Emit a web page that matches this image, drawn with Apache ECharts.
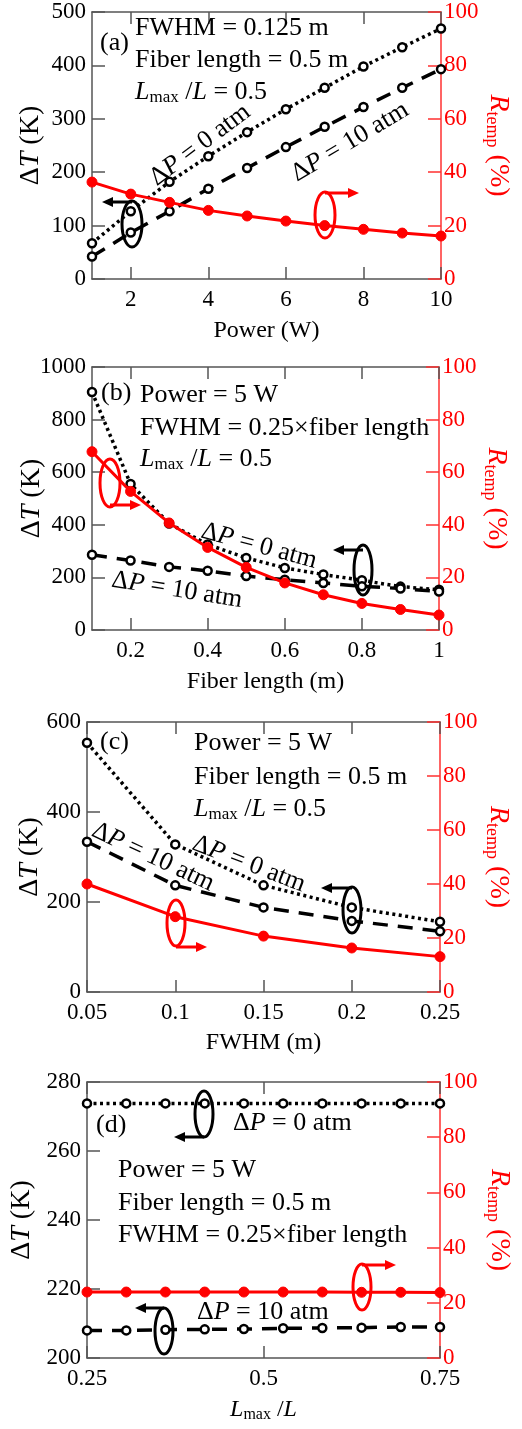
<!DOCTYPE html>
<html><head><meta charset="utf-8">
<script src="https://cdn.jsdelivr.net/npm/echarts@6/dist/echarts.min.js"></script>
<style>html,body{margin:0;padding:0;background:#fff}#c{width:522px;height:1429px}</style>
</head><body><div id="c"></div>
<script>
// ---------- data ----------
const powerW = [1, 2, 3, 4, 5, 6, 7, 8, 9, 10];
const a_dT0 = [67, 127, 182, 230, 275, 318, 358, 398, 434, 469];
const a_dT10 = [42, 87, 127, 169, 208, 247, 285, 322, 358, 393];
const a_R = [36.3, 31.8, 28.7, 25.7, 23.6, 21.7, 20.0, 18.6, 17.2, 16.1];

const fiberLen = [0.1, 0.2, 0.3, 0.4, 0.5, 0.6, 0.7, 0.8, 0.9, 1.0];
const b_dT0 = [905, 555, 405, 325, 274, 236, 211, 189, 165, 153];
const b_dT10 = [286, 264, 240, 225, 205, 191, 179, 166, 158, 146];
const b_R = [67.8, 52.7, 40.7, 31.4, 23.8, 17.9, 13.4, 10.1, 7.8, 5.7];

const fwhm = [0.05, 0.1, 0.15, 0.2, 0.25];
const c_dT0 = [554, 328, 237, 188, 156];
const c_dT10 = [334, 237, 188, 158, 135];
const c_R = [40.0, 27.9, 20.7, 16.3, 13.1];

const lRatio = [0.25, 0.3056, 0.3611, 0.4167, 0.4722, 0.5278, 0.5833, 0.6389, 0.6944, 0.75];
const d_dT0 = [273.8, 273.8, 273.8, 273.8, 273.8, 273.8, 273.8, 273.8, 273.8, 273.8];
const d_dT10 = [208.0, 208.0, 208.2, 208.3, 208.4, 208.6, 208.7, 208.8, 209.0, 209.0];
const d_R = [23.9, 23.9, 23.9, 23.9, 23.9, 23.9, 23.9, 23.8, 23.8, 23.7];

// axis tick values
const aXTicks = [2, 4, 6, 8, 10];
const bXTicks = [0.2, 0.4, 0.6, 0.8, 1];

// ---------- styling helpers ----------
const FF = '"Liberation Serif", "Times New Roman", serif';
const RED = '#ff0000';
const AX = '#555';
const richBase = (color, fs) => ({
  n: { fontFamily: FF, fontSize: fs, color: color },
  i: { fontFamily: FF, fontSize: fs, color: color, fontStyle: 'italic' },
  s: { fontFamily: FF, fontSize: Math.round(fs * 0.65), color: color, padding: [Math.round(fs * 0.45), 0, 0, 0] }
});

const grids = [
  { left: 92, right: 81, top: 12, height: 267 },
  { left: 92, right: 83, top: 367, height: 263 },
  { left: 87, right: 82, top: 722, height: 270 },
  { left: 87, right: 82, top: 1082, height: 276 }
];

function xAxes(gi, cfg) {
  const base = {
    gridIndex: gi, type: 'value', min: cfg.min, max: cfg.max,
    splitLine: { show: false },
    axisLine: { show: true, onZero: false, lineStyle: { color: AX, width: 1.5 } },
    axisTick: { show: true, inside: true, length: 12, lineStyle: { color: AX, width: 1.5 } }
  };
  if (cfg.interval) base.interval = cfg.interval;
  if (cfg.ticks) { base.axisTick.customValues = cfg.ticks; }
  const bottom = Object.assign({}, base, {
    position: 'bottom',
    axisTick: Object.assign({}, base.axisTick),
    axisLabel: Object.assign({ fontFamily: FF, fontSize: 23, color: '#000', margin: 9 }, cfg.ticks ? { customValues: cfg.ticks } : {}),
    name: cfg.name, nameLocation: 'middle', nameGap: cfg.nameGap || 38, nameMoveOverlap: false,
    nameTextStyle: { fontFamily: FF, fontSize: 24, color: '#000', rich: richBase('#000', 24) }
  });
  const top = Object.assign({}, base, {
    position: 'top',
    axisTick: Object.assign({}, base.axisTick),
    axisLabel: { show: false }
  });
  return [bottom, top];
}

function yAxes(gi, cfg) {
  const left = {
    gridIndex: gi, type: 'value', position: 'left', min: cfg.min, max: cfg.max, interval: cfg.interval,
    splitLine: { show: false },
    axisLine: { show: true, onZero: false, lineStyle: { color: AX, width: 1.5 } },
    axisTick: { show: true, inside: true, length: 13, lineStyle: { color: AX, width: 1.5 } },
    axisLabel: { fontFamily: FF, fontSize: 23, color: '#000', margin: 6, formatter: v => String(v) },
    name: '{n|Δ}{i|T}{n| (K)}', nameLocation: 'middle', nameGap: cfg.lg, nameMoveOverlap: false,
    nameTextStyle: { rich: richBase('#000', 28) }
  };
  const right = {
    gridIndex: gi, type: 'value', position: 'right', min: 0, max: 100, interval: 20,
    splitLine: { show: false },
    axisLine: { show: true, onZero: false, lineStyle: { color: '#ff3030', width: 1.5 } },
    axisTick: { show: true, inside: true, length: 13, lineStyle: { color: '#ff3030', width: 1.5 } },
    axisLabel: { fontFamily: FF, fontSize: 23, color: RED, margin: 3, formatter: v => String(v) },
    name: '{i|R}{s|temp}{n| (%)}', nameLocation: 'middle', nameGap: cfg.rg, nameRotate: -90, nameMoveOverlap: false,
    nameTextStyle: { rich: richBase(RED, 28) }
  };
  return [left, right];
}

const zip = (xs, ys) => xs.map((x, k) => [x, ys[k]]);

function seriesFor(gi, xs, dT0, dT10, R) {
  const blackMarker = { color: '#fff', borderColor: '#000', borderWidth: 2.5 };
  return [
    {
      type: 'line', xAxisIndex: 2 * gi, yAxisIndex: 2 * gi, data: zip(xs, dT0),
      symbol: 'circle', symbolSize: 8, itemStyle: blackMarker,
      lineStyle: { color: '#000', width: 3.5, type: [3, 3.5] }, animation: false, z: 3
    },
    {
      type: 'line', xAxisIndex: 2 * gi, yAxisIndex: 2 * gi, data: zip(xs, dT10),
      symbol: 'circle', symbolSize: 8, itemStyle: blackMarker,
      lineStyle: { color: '#000', width: 3.5, type: [15, 10] }, animation: false, z: 3
    },
    {
      type: 'line', xAxisIndex: 2 * gi, yAxisIndex: 2 * gi + 1, data: zip(xs, R),
      symbol: 'circle', symbolSize: 10, itemStyle: { color: RED, borderColor: RED, borderWidth: 1 },
      lineStyle: { color: RED, width: 3 }, animation: false, z: 4
    }
  ];
}

// ---------- annotations ----------
const TRICH = {
  i: { fontFamily: FF, fontSize: 26, fontStyle: 'italic', fill: '#000' },
  n: { fontFamily: FF, fontSize: 26, fill: '#000' },
  s: { fontFamily: FF, fontSize: 17, fill: '#000', padding: [12, 0, 0, 0] }
};
function txt(x, y, text, rotDeg, align) {
  return {
    type: 'text', x: x, y: y, rotation: (rotDeg || 0) * Math.PI / 180, z: 100,
    style: {
      text: text, fontFamily: FF, fontSize: 26, fill: '#000',
      align: align || 'left', verticalAlign: 'middle', rich: TRICH
    }
  };
}
function ell(cx, cy, rx, ry, color) {
  return { type: 'ellipse', shape: { cx, cy, rx, ry }, z: 90, style: { fill: 'none', stroke: color, lineWidth: 3 } };
}
function arrow(x1, y1, x2, y2, color) {
  const dx = x2 - x1, dy = y2 - y1, L = Math.hypot(dx, dy);
  const ux = dx / L, uy = dy / L, hl = 11, hw = 5;
  const bx = x2 - ux * hl, by = y2 - uy * hl;
  return [
    { type: 'line', z: 90, shape: { x1, y1, x2: bx, y2: by }, style: { stroke: color, lineWidth: 3 } },
    { type: 'polygon', z: 90, shape: { points: [[x2, y2], [bx - uy * hw, by + ux * hw], [bx + uy * hw, by - ux * hw]] }, style: { fill: color } }
  ];
}

const LMAX = '{i|L}{s|max}{n| /}{i|L}{n| = 0.5}';
const graphics = [
  // (a)
  txt(100, 43, '(a)'),
  txt(135, 28, 'FWHM = 0.125 m'),
  txt(135, 60, 'Fiber length = 0.5 m'),
  txt(135, 92, LMAX),
  txt(200, 145, '{n|Δ}{i|P}{n| = 0 atm}', 37, 'center'),
  txt(350, 142, '{n|Δ}{i|P}{n| = 10 atm}', 31, 'center'),
  ell(132, 224, 10, 23, '#000'), ...arrow(132, 202, 102, 202, '#000'),
  ell(325, 215, 10, 23, RED), ...arrow(325, 193, 359, 193, RED),
  // (b)
  txt(101, 393, '(b)'),
  txt(140, 395, 'Power = 5 W'),
  txt(140, 428, 'FWHM = 0.25×fiber length'),
  txt(140, 459, LMAX),
  txt(259, 546, '{n|Δ}{i|P}{n| = 0 atm}', -15, 'center'),
  txt(177, 590, '{n|Δ}{i|P}{n| = 10 atm}', -9, 'center'),
  ell(110, 483, 10, 24, RED), ...arrow(110, 505, 141, 505, RED),
  ell(363, 570, 9, 25, '#000'), ...arrow(363, 550, 333, 550, '#000'),
  // (c)
  txt(100, 742, '(c)'),
  txt(194, 743, 'Power = 5 W'),
  txt(194, 777, 'Fiber length = 0.5 m'),
  txt(194, 809, LMAX),
  txt(249, 864, '{n|Δ}{i|P}{n| = 0 atm}', -21, 'center'),
  txt(153, 857, '{n|Δ}{i|P}{n| = 10 atm}', -25, 'center'),
  ell(176, 923, 9, 23, RED), ...arrow(176, 947, 207, 947, RED),
  ell(352, 910, 9, 23, '#000'), ...arrow(352, 888, 321, 888, '#000'),
  // (d)
  txt(96, 1125, '(d)'),
  txt(233, 1123, '{n|Δ}{i|P}{n| = 0 atm}'),
  txt(118, 1170, 'Power = 5 W'),
  txt(118, 1203, 'Fiber length = 0.5 m'),
  txt(118, 1235, 'FWHM = 0.25×fiber length'),
  txt(197, 1312, '{n|Δ}{i|P}{n| = 10 atm}'),
  ell(204, 1114, 9, 23, '#000'), ...arrow(204, 1137, 174, 1137, '#000'),
  ell(362, 1287, 9, 23, RED), ...arrow(362, 1265, 396, 1265, RED),
  ell(164, 1331, 9, 23, '#000'), ...arrow(164, 1308, 135, 1308, '#000')
];

const option = {
  backgroundColor: '#fff',
  animation: false,
  grid: grids,
  xAxis: [
    ...xAxes(0, { min: 1, max: 10, ticks: aXTicks, name: 'Power (W)', nameGap: 40 }),
    ...xAxes(1, { min: 0.1, max: 1, ticks: bXTicks, name: 'Fiber length (m)', nameGap: 40 }),
    ...xAxes(2, { min: 0.05, max: 0.25, interval: 0.05, name: 'FWHM (m)', nameGap: 39 }),
    ...xAxes(3, { min: 0.25, max: 0.75, interval: 0.25, name: '{i|L}{s|max}{n| /}{i|L}', nameGap: 38 })
  ],
  yAxis: [
    ...yAxes(0, { min: 0, max: 500, interval: 100, lg: 47, rg: 42 }),
    ...yAxes(1, { min: 0, max: 1000, interval: 200, lg: 46, rg: 42 }),
    ...yAxes(2, { min: 0, max: 600, interval: 200, lg: 43, rg: 43 }),
    ...yAxes(3, { min: 200, max: 280, interval: 20, lg: 51, rg: 44 })
  ],
  series: [
    ...seriesFor(0, powerW, a_dT0, a_dT10, a_R),
    ...seriesFor(1, fiberLen, b_dT0, b_dT10, b_R),
    ...seriesFor(2, fwhm, c_dT0, c_dT10, c_R),
    ...seriesFor(3, lRatio, d_dT0, d_dT10, d_R)
  ],
  graphic: graphics
};

const chart = echarts.init(document.getElementById('c'), null, { renderer: 'canvas' });
chart.setOption(option);
</script>
</body></html>
